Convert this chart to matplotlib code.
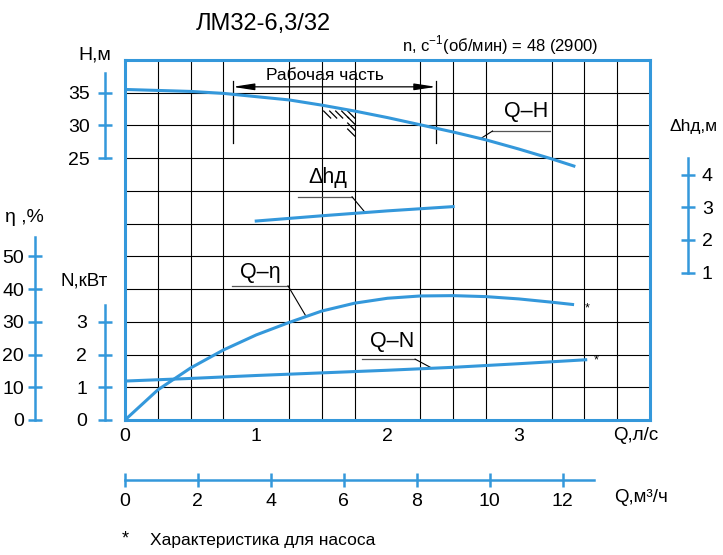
import numpy as np
import matplotlib
matplotlib.use("Agg")
import matplotlib.pyplot as plt

# -------------------------------
# Data
# -------------------------------
q_H = [0, 0.5, 0.75, 1.0, 1.25, 1.5, 1.75, 2.0, 2.25, 2.5, 2.75, 3.0, 3.25, 3.42]
H = [35.5, 35.2, 34.9, 34.4, 33.9, 33.1, 32.2, 31.2, 30.1, 29.0, 27.8, 26.4, 24.9, 23.8]

q_eta = [0, 0.25, 0.5, 0.75, 1.0, 1.25, 1.5, 1.75, 2.0, 2.25, 2.5, 2.75, 3.0, 3.25, 3.41]
eta = [0, 9.2, 15.9, 21.4, 26.0, 29.8, 33.3, 35.7, 37.2, 37.9, 38.0, 37.7, 37.0, 36.0, 35.3]

q_N = [0, 0.5, 1.0, 1.5, 2.0, 2.5, 3.0, 3.51]
N = [1.19, 1.27, 1.36, 1.44, 1.52, 1.61, 1.72, 1.84]

q_dh = [1.0, 1.5, 2.0, 2.5]
dh = [2.58, 2.74, 2.89, 3.02]

work_range = [0.82, 2.37]   # "Рабочая часть", l/s

q_ticks = [0, 1, 2, 3]
qm3_ticks = [0, 2, 4, 6, 8, 10, 12]
H_ticks = [25, 30, 35]
eta_ticks = [0, 10, 20, 30, 40, 50]
N_ticks = [0, 1, 2, 3]
dh_ticks = [1, 2, 3, 4]

BLUE = "#3498db"
W, HGT = 723, 555
TICK_FS = 14

plt.rcParams['font.family'] = ['Liberation Sans', 'DejaVu Sans']
plt.rcParams['mathtext.fontset'] = 'custom'
plt.rcParams['mathtext.rm'] = 'Liberation Sans'


def px(x, y):
    # pixel position -> figure fraction (for free text only)
    return x / W, 1 - y / HGT


# grid rows: 11 rows, each scale maps onto them
def H_row(h):
    return 8 + (np.asarray(h) - 25) / 5.0

def eta_row(e):
    return np.asarray(e) / 10.0

def dh_row(d):
    return np.asarray(d) + 3.5


fig = plt.figure(figsize=(W / 100, HGT / 100), dpi=100)
ax = fig.add_axes([125 / W, 135 / HGT, 525 / W, 360 / HGT])
ax.set_xlim(0, 4)
ax.set_ylim(0, 11)

# grid 16 x 11
ax.set_xticks(np.arange(0, 4.01, 0.25), minor=True)
ax.set_yticks(np.arange(0, 11.01, 1), minor=True)
ax.set_xticks(q_ticks)
ax.set_yticks([])
ax.grid(which="minor", color="black", lw=0.8)
ax.tick_params(which="minor", length=0)
ax.tick_params(axis="x", which="major", length=0, labelsize=TICK_FS, pad=6)
for s in ax.spines.values():
    s.set_color(BLUE)
    s.set_linewidth(2.2)


def side_scale(lim, side, offset_px, bounds, ticks, pad):
    t = ax.twinx()
    t.set_ylim(*lim)
    for s in t.spines.values():
        s.set_visible(False)
    sp = t.spines[side]
    sp.set_visible(True)
    sp.set_position(("outward", offset_px * 0.72))
    sp.set_bounds(*bounds)
    sp.set_color(BLUE)
    sp.set_linewidth(1.8)
    if side == "left":
        t.yaxis.tick_left()
    else:
        t.yaxis.tick_right()
    t.set_yticks(ticks)
    t.tick_params(axis="y", direction="inout", length=10, width=1.8,
                  color=BLUE, labelsize=TICK_FS, pad=pad)
    return t


axH = side_scale((-15, 40), "left", 20, (25, 38), H_ticks, 6)
axE = side_scale((0, 110), "left", 90, (0, 56), eta_ticks, 3)
axN = side_scale((0, 11), "left", 20, (0, 3.5), N_ticks, 8)
axD = side_scale((-3.5, 7.5), "right", 38, (1, 4.5), dh_ticks, 5)

# flow in m3/h along the bottom
axM = ax.twiny()
axM.set_xlim(0, 4 * 3.6)
for s in axM.spines.values():
    s.set_visible(False)
axM.spines["bottom"].set_visible(True)
axM.spines["bottom"].set_position(("outward", 60 * 0.72))
axM.spines["bottom"].set_bounds(0, 12.86)
axM.spines["bottom"].set_color(BLUE)
axM.spines["bottom"].set_linewidth(1.8)
axM.xaxis.tick_bottom()
axM.set_xticks(qm3_ticks)
axM.tick_params(axis="x", direction="inout", length=10, width=1.8,
                color=BLUE, labelsize=TICK_FS, pad=4)

# curves
lw = 2.2
axH.plot(q_H, H, color=BLUE, lw=lw)
axE.plot(q_eta, eta, color=BLUE, lw=lw)
axN.plot(q_N, N, color=BLUE, lw=lw)
axD.plot(q_dh, dh, color=BLUE, lw=lw)

# asterisks after eta and N curves
ax.text(q_eta[-1] + 0.11, eta_row(eta[-1]) - 0.12, "*", fontsize=9, ha="center", va="center")
ax.text(q_N[-1] + 0.08, N[-1] - 0.03, "*", fontsize=9, ha="center", va="center")

# curve labels with leader lines (underline + slant to curve)
def label(txt, tx, ty, u0, u1, uy, q_pt, row_pt):
    ax.text(tx, ty, txt, fontsize=15.5, ha="center", va="center")
    ax.plot([u0, u1], [uy, uy], color="#555555", lw=0.9)
    end = u1 if abs(q_pt - u1) < abs(q_pt - u0) else u0
    ax.plot([end, q_pt], [uy, row_pt], color="black", lw=0.8)


qa = 2.71
label("Q–H", 3.055, 9.44, 2.80, 3.24, 8.83, qa, H_row(np.interp(qa, q_H, H)))
qa = 1.83
label("Δhд", 1.547, 7.42, 1.318, 1.73, 6.82, qa, dh_row(np.interp(qa, q_dh, dh)))
qa = 1.38
label("Q–η", 1.029, 4.52, 0.815, 1.242, 4.10, qa, eta_row(np.interp(qa, q_eta, eta)))
qa = 2.34
label("Q–N", 2.034, 2.41, 1.806, 2.21, 1.86, qa, np.interp(qa, q_N, N))

# working range bracket
br = 10.18
ax.annotate("", xy=(work_range[0], br), xytext=(work_range[1], br),
            arrowprops=dict(arrowstyle="<|-|>,head_length=1.3,head_width=0.2",
                            color="black", lw=0.9, shrinkA=0, shrinkB=0,
                            mutation_scale=10))
for qw in work_range:
    ax.plot([qw, qw], [8.45, 10.37], color="black", lw=0.9)
ax.text(1.52, 10.54, "Рабочая часть", fontsize=12.5, ha="center", va="center")

# hatch at the corner under the H curve
qc = 1.75
rc = H_row(np.interp(qc, q_H, H))
sx, sy = 1 / 131.25, 1 / 32.73
for dx in [-31, -25, -19, -13, -7]:
    ax.plot([qc + dx * sx, qc + (dx + 7) * sx], [rc, rc - 7 * sy], color="black", lw=0.9)
for dy in [6, 12, 18]:
    ax.plot([qc - 7 * sx, qc], [rc - dy * sy, rc - (dy + 7) * sy], color="black", lw=0.9)

# free text
fig.text(*px(263, 24), "ЛМ32-6,3/32", fontsize=17, ha="center", va="center")
fig.text(*px(402, 45), "n, с$^{-1}$(об/мин) = 48 (2900)", fontsize=12, ha="left", va="center")
fig.text(*px(95, 55), "H,м", fontsize=14, ha="center", va="center")
fig.text(*px(24, 218), "η ,%", fontsize=14, ha="center", va="center")
fig.text(*px(84, 281), "N,кВт", fontsize=13.5, ha="center", va="center")
fig.text(*px(694, 126), "Δhд,м", fontsize=12.5, ha="center", va="center")
fig.text(*px(636, 436), "Q,л/с", fontsize=13.5, ha="center", va="center")
fig.text(*px(641, 497), "Q,м³/ч", fontsize=13.5, ha="center", va="center")
fig.text(*px(125, 539), "*", fontsize=13, ha="center", va="center")
fig.text(*px(150, 540), "Характеристика для насоса", fontsize=12.5, ha="left", va="center")

fig.savefig("out.png", dpi=100)
